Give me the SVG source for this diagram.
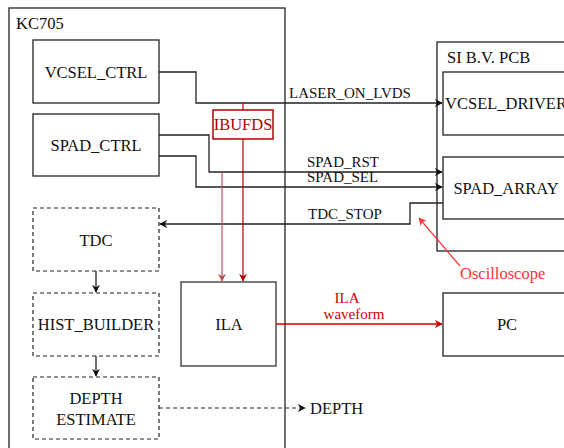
<svg xmlns="http://www.w3.org/2000/svg" width="564" height="448" viewBox="0 0 564 448" font-family="'Liberation Serif', 'DejaVu Serif', serif">
<style>
text{font-family:'Liberation Serif','DejaVu Serif',serif;fill:#111}
.b{font-size:16.5px;text-anchor:middle}
.l{font-size:15px}
.box{fill:#fff;stroke:#222;stroke-width:1.3}
.dash{fill:#fff;stroke:#222;stroke-width:1.2;stroke-dasharray:4 3}
.w{fill:none;stroke:#222;stroke-width:1.3}
</style>
<defs>
<marker id="ah" viewBox="0 0 10 10" refX="9" refY="5" markerWidth="8" markerHeight="8" markerUnits="userSpaceOnUse" orient="auto"><path d="M0,0L10,5L0,10L3,5Z" fill="#111"/></marker>
<marker id="ahr" viewBox="0 0 10 10" refX="9" refY="5" markerWidth="8" markerHeight="8" markerUnits="userSpaceOnUse" orient="auto"><path d="M0,0L10,5L0,10L3,5Z" fill="#cc0000"/></marker>
<marker id="ahr2" viewBox="0 0 10 10" refX="9" refY="5" markerWidth="8" markerHeight="8" markerUnits="userSpaceOnUse" orient="auto"><path d="M0,0L10,5L0,10L3,5Z" fill="#b85450"/></marker>
<marker id="ahr3" viewBox="0 0 10 10" refX="9" refY="5" markerWidth="8" markerHeight="8" markerUnits="userSpaceOnUse" orient="auto"><path d="M0,0L10,5L0,10L3,5Z" fill="#b20000"/></marker>
<marker id="aho" viewBox="0 0 10 10" refX="9" refY="5" markerWidth="8" markerHeight="8" markerUnits="userSpaceOnUse" orient="auto"><path d="M0,0L10,5L0,10L3,5Z" fill="#ff3333"/></marker>
</defs>
<g id="kc705"><rect x="9" y="8" width="276" height="450" fill="#fff" stroke="#222" stroke-width="1.3"/><text x="16" y="29" style="font-size:16.5px">KC705</text></g>
<g id="pcb"><rect x="437" y="42" width="140" height="209" fill="#fff" stroke="#222" stroke-width="1.3"/><text x="447" y="63" style="font-size:16.5px">SI B.V. PCB</text></g>
<g id="vcsel_ctrl"><rect class="box" x="33" y="40" width="126" height="63"/><text class="b" x="96" y="78">VCSEL_CTRL</text></g>
<g id="spad_ctrl"><rect class="box" x="33" y="114" width="126" height="62"/><text class="b" x="96" y="151">SPAD_CTRL</text></g>
<g id="tdc"><rect class="dash" x="33" y="208" width="126" height="63"/><text class="b" x="96" y="246">TDC</text></g>
<g id="hist_builder"><rect class="dash" x="33" y="293" width="126" height="63"/><text class="b" x="96" y="330">HIST_BUILDER</text></g>
<g id="depth_estimate"><rect class="dash" x="33" y="377" width="126" height="62"/><text class="b" x="96" y="404">DEPTH</text><text class="b" x="96" y="425">ESTIMATE</text></g>
<g id="ila"><rect x="181" y="282" width="95" height="84" fill="#fff" stroke="#333" stroke-width="1.3"/><text class="b" x="229" y="330">ILA</text></g>
<g id="vcsel_driver"><rect class="box" x="443" y="72" width="126" height="63"/><text class="b" x="506" y="109">VCSEL_DRIVER</text></g>
<g id="spad_array"><rect class="box" x="443" y="157" width="126" height="62"/><text class="b" x="506" y="194">SPAD_ARRAY</text></g>
<g id="pc"><rect class="box" x="443" y="293" width="126" height="63"/><text class="b" x="507" y="330">PC</text></g>
<g id="connectors">
<polyline class="w" points="159,72 196,72 196,103 442,103" marker-end="url(#ah)"/>
<polyline class="w" points="159,135 209,135 209,172 442,172" marker-end="url(#ah)"/>
<polyline class="w" points="159,156 196,156 196,187 442,187" marker-end="url(#ah)"/>
<polyline class="w" points="443,203 410,203 410,224 160,224" marker-end="url(#ah)"/>
<line class="w" x1="96" y1="271" x2="96" y2="292" marker-end="url(#ah)"/>
<line class="w" x1="96" y1="356" x2="96" y2="376" marker-end="url(#ah)"/>
<line x1="159" y1="408" x2="305" y2="408" stroke="#222" stroke-width="1.2" stroke-dasharray="4 3" marker-end="url(#ah)"/>
<line x1="243" y1="103" x2="243" y2="110" stroke="#b20000" stroke-width="1.2"/>
<line x1="243" y1="139" x2="243" y2="281" stroke="#b20000" stroke-width="1.2" marker-end="url(#ahr3)"/>
<line x1="222" y1="172" x2="222" y2="281" stroke="#b85450" stroke-width="1.2" marker-end="url(#ahr2)"/>
<line x1="276" y1="324" x2="442" y2="324" stroke="#cc0000" stroke-width="1.4" marker-end="url(#ahr)"/>
<line x1="460" y1="266" x2="419" y2="218" stroke="#ff3333" stroke-width="1.2" marker-end="url(#aho)"/>
</g>
<g id="ibufds"><rect x="213" y="110" width="60" height="29" fill="#fff" stroke="#b20000" stroke-width="1.5"/><text x="243" y="130" style="font-size:16.5px;text-anchor:middle;fill:#b20000">IBUFDS</text></g>
<g id="labels">
<text class="l" x="289" y="98">LASER_ON_LVDS</text>
<text class="l" x="307" y="167">SPAD_RST</text>
<text class="l" x="307" y="182">SPAD_SEL</text>
<text class="l" x="308" y="219">TDC_STOP</text>
<text x="347" y="303" style="font-size:15px;text-anchor:middle;fill:#cc0000">ILA</text>
<text x="354" y="319" style="font-size:15px;text-anchor:middle;fill:#cc0000">waveform</text>
<text x="460" y="279" style="font-size:16.5px;fill:#ff3333">Oscilloscope</text>
<text x="310" y="414" style="font-size:16.5px">DEPTH</text>
</g>
</svg>
